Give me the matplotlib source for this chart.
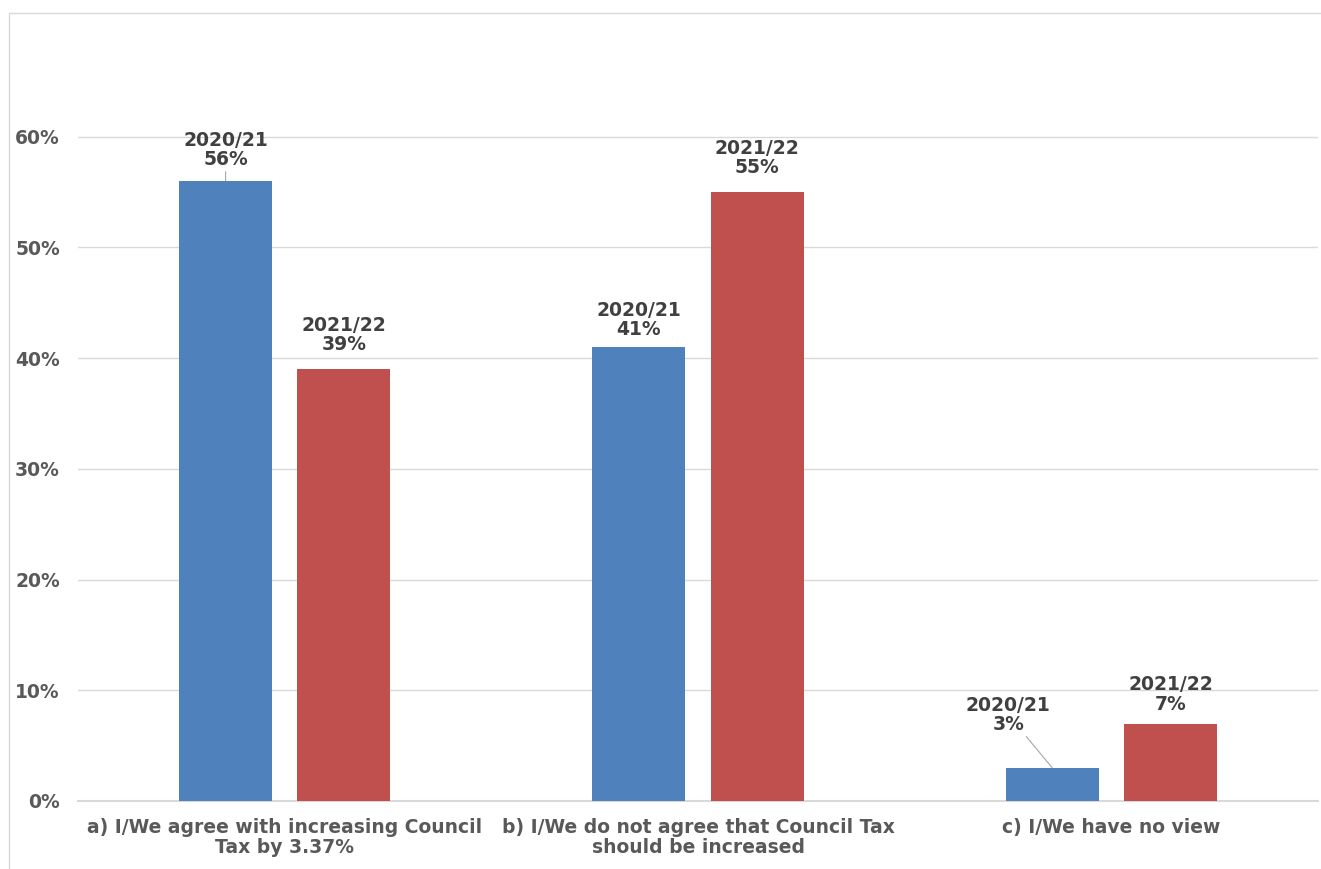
import matplotlib
matplotlib.use('Agg')
import matplotlib.pyplot as plt
from matplotlib.patches import Rectangle
import numpy as np

categories = [
    'a) I/We agree with increasing Council\nTax by 3.37%',
    'b) I/We do not agree that Council Tax\nshould be increased',
    'c) I/We have no view',
]
series_names = ['2020/21', '2021/22']
values_2020 = [0.56, 0.41, 0.03]
values_2021 = [0.39, 0.55, 0.07]
yticks = [0, 0.1, 0.2, 0.3, 0.4, 0.5, 0.6]

# label offsets in pixels (dx, dy) and whether a leader line is drawn
offsets_2020 = [(0, 12, True), (0, 8, False), (-44, 34, True)]
offsets_2021 = [(0, 15, False), (0, 15, False), (0, 10, False)]

blue = '#4F81BD'
red = '#C0504D'
label_color = '#404040'
tick_color = '#595959'
fsize = 13.5

W, H = 1321, 869
fig = plt.figure(figsize=(W / 100, H / 100), dpi=100)
fig.patches.append(Rectangle((9 / W, -0.1), 1.2, (H - 13) / H + 0.1,
                             transform=fig.transFigure, fill=False,
                             edgecolor='#D9D9D9', linewidth=1))
ax = fig.add_axes([78 / W, (H - 801) / H, (1318 - 78) / W, (801 - 26) / H])

x = np.arange(len(categories))
width = 0.225
shift = 0.143
bars_a = ax.bar(x - shift, values_2020, width, color=blue, zorder=3)
bars_b = ax.bar(x + shift, values_2021, width, color=red, zorder=3)

px = 0.72
for bars, vals, offs, name in [(bars_a, values_2020, offsets_2020, series_names[0]),
                               (bars_b, values_2021, offsets_2021, series_names[1])]:
    for bar, v, (dx, dy, line) in zip(bars, vals, offs):
        xc = bar.get_x() + bar.get_width() / 2
        kw = {}
        if line:
            kw['arrowprops'] = dict(arrowstyle='-', color='#A6A6A6', lw=0.8,
                                    shrinkA=0, shrinkB=0)
        ax.annotate('%s\n%d%%' % (name, round(v * 100)), xy=(xc, v),
                    xytext=(dx * px, dy * px), textcoords='offset points',
                    ha='center', va='bottom', fontsize=fsize, fontweight='bold',
                    color=label_color, linespacing=1.0, **kw)

ax.set_xlim(-0.5, 2.5)
ax.set_ylim(0, 0.7)
ax.set_yticks(yticks)
ax.set_yticklabels(['%d%%' % round(t * 100) for t in yticks])
ax.set_xticks(x)
ax.set_xticklabels(categories, linespacing=1.1)
for lab in ax.get_xticklabels() + ax.get_yticklabels():
    lab.set_fontweight('bold')
    lab.set_color(tick_color)
    lab.set_fontsize(fsize)
ax.tick_params(axis='both', length=0)
ax.tick_params(axis='y', pad=13)
ax.tick_params(axis='x', pad=12)
ax.grid(axis='y', color='#D9D9D9', linewidth=1, zorder=0)
ax.axhline(0, color='#D9D9D9', linewidth=1.5, zorder=1, clip_on=False)
for s in ax.spines.values():
    s.set_visible(False)

fig.savefig('out.png', dpi=100)
